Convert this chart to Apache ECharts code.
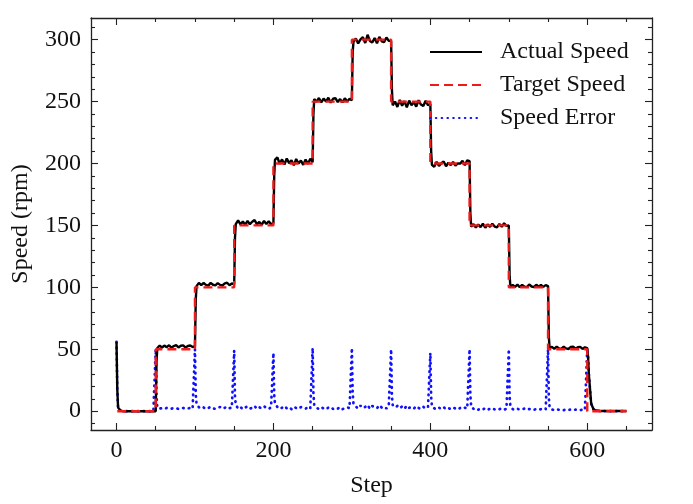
<!DOCTYPE html>
<html><head><meta charset="utf-8">
<script src="https://cdn.jsdelivr.net/npm/echarts@6/dist/echarts.min.js"></script>
<style>html,body{margin:0;padding:0;background:#fff}#c{width:693px;height:504px}</style>
</head><body><div id="c"></div>
<script>
// Sample steps shared by Actual Speed and Speed Error
const steps = [
  0,1,2,5,8,11,14,17,20,23,26,29,32,35,38,41,44,47,
  50,51,52,55,58,61,64,67,70,73,76,79,82,85,88,91,94,97,
  100,101,102,105,108,111,114,117,120,123,126,129,132,135,138,141,144,147,
  150,151,152,155,158,161,164,167,170,173,176,179,182,185,188,191,194,197,
  200,201,202,205,208,211,214,217,220,223,226,229,232,235,238,241,244,247,
  250,251,252,255,258,261,264,267,270,273,276,279,282,285,288,291,294,297,
  300,301,302,305,308,311,314,317,320,323,326,329,332,335,338,341,344,347,
  350,351,352,355,358,361,364,367,370,373,376,379,382,385,388,391,394,397,
  400,401,402,405,408,411,414,417,420,423,426,429,432,435,438,441,444,447,
  450,451,452,455,458,461,464,467,470,473,476,479,482,485,488,491,494,497,
  500,501,502,505,508,511,514,517,520,523,526,529,532,535,538,541,544,547,
  550,551,552,555,558,561,564,567,570,573,576,579,582,585,588,591,594,597,
  600,601,602,605,608,611,614,617,620,623,626,629,632,635,638,641,644,647,
  650
];
const actualSpeed = [
  56,18,3,0.5,0,0,0,0,0,0,0,0,0,0,0,0,0,0,
  0,40,51,52.9,51.4,53.0,51.7,53.2,51.3,52.6,53.3,51.5,52.8,53.1,51.4,52.6,53.0,51.8,
  52.3,90,101,103.6,101.8,103.5,102.0,101.4,103.6,102.1,101.6,103.4,102.0,101.5,103.2,103.7,101.7,103.1,
  102.5,140,151,154.0,150.8,153.2,150.5,153.6,151.0,153.0,154.4,150.9,152.8,150.4,153.6,151.2,153.3,151.0,
  152,190,203,205.0,199.8,203.3,199.2,204.0,200.3,202.6,198.5,203.7,200.0,202.4,198.9,203.2,199.7,203.9,
  201,240,252,249.8,252.9,249.3,252.4,250.0,253.1,249.1,252.3,252.8,249.6,252.0,249.4,252.7,250.1,252.2,
  251,290,298,301.0,297.0,300.3,302.0,297.3,304.0,299.0,297.7,301.4,297.1,302.3,298.7,298.0,301.7,299.1,
  299,260,247,250.0,245.7,251.3,246.6,250.4,245.3,250.8,247.1,249.7,245.9,251.1,247.6,246.4,250.6,247.0,
  248,210,199,197.3,201.4,198.1,200.3,201.7,197.8,200.6,198.7,201.3,198.4,200.1,199.9,202.1,198.6,202.6,
  202,160,149,151.0,148.3,150.7,148.6,151.5,148.1,150.9,148.8,151.4,149.1,148.4,151.2,148.9,151.8,149.6,
  150,110,100.5,101.9,100.4,102.2,100.1,102.0,100.6,100.3,102.3,100.7,100.2,102.1,100.5,101.9,100.4,101.8,
  101,60,51,51.9,50.3,52.1,50.6,50.4,52.0,50.7,50.2,51.8,52.1,50.4,51.7,51.9,50.3,51.6,
  51,44,30,6,1.5,0.5,0.3,0.2,0.2,0.1,0.1,0.1,0.1,0.1,0.1,0.1,0.1,0.1,
  0.1
];
const speedError = [
  56,18,3,0.5,0,0,0,0,0,0,0,0,0,0,0,0,0,0,
  50,12,3,2.1,2.4,1.9,2.6,2.2,2.0,2.5,2.3,1.8,2.4,2.6,2.1,2.3,2.5,2.0,
  50,14,6,3.2,2.1,3.0,1.8,2.6,3.4,2.2,1.9,2.8,3.3,2.0,2.7,3.6,2.4,2.9,
  49,12,5,2.2,3.4,1.6,2.9,3.8,2.1,2.7,4.2,1.9,3.1,2.4,3.9,2.6,1.8,3.2,
  47,13,6,3.5,1.9,2.8,4.1,2.3,3.2,1.7,3.6,2.5,1.9,3.3,2.7,2.0,3.4,2.2,
  51,14,5,2.8,1.7,3.1,2.2,1.5,2.9,3.4,1.8,2.6,2.1,3.2,1.6,2.4,3.0,2.5,
  51,15,6,3.8,2.1,4.5,2.6,3.4,5.0,1.9,4.2,3.1,2.4,4.8,2.9,3.6,2.2,4.0,
  50,13,5,3.1,4.2,2.4,3.8,1.9,4.5,2.7,3.3,2.1,4.0,2.6,1.8,3.5,2.3,3.0,
  47,12,4,2.3,1.5,2.8,1.9,3.2,1.6,2.4,1.8,3.0,2.1,1.4,2.6,1.9,2.8,2.2,
  50,13,4,1.8,2.4,1.2,2.1,1.5,2.3,1.1,1.9,2.5,1.4,2.0,1.6,2.2,1.3,1.8,
  50,12,4,1.6,1.1,1.9,1.3,1.5,2.1,1.2,1.7,1.4,1.0,1.8,1.3,1.6,1.1,1.5,
  50,11,3,1.3,0.9,1.5,1.1,1.2,0.8,1.4,1.0,1.3,0.9,1.2,1.1,0.8,1.3,1.0,
  51,44,30,6,1.5,0.5,0.3,0.2,0.2,0.1,0.1,0.1,0.1,0.1,0.1,0.1,0.1,0.1,
  0.1
];
// Target speed step corners
const targetSteps = [1,50,50,100,100,150,150,200,200,250,250,300,300,350,350,400,400,450,450,500,500,550,550,600,600,650];
const targetSpeed = [0,0,50,50,100,100,150,150,200,200,250,250,300,300,250,250,200,200,150,150,100,100,50,50,0,0];

const xMajor = [0,200,400,600];
const xMinor = [50,100,150,250,300,350,450,500,550,650];
const yMajor = [0,50,100,150,200,250,300];
const yMinor = [-10,10,20,30,40,60,70,80,90,110,120,130,140,160,170,180,190,210,220,230,240,260,270,280,290,310];

const FONT = 'Liberation Serif';
const AX = '#222';
const XMIN = -32.5, XMAX = 682.5, YMIN = -15.2, YMAX = 317.5;

function xAx(pos, vals, len, line, labels, extra) {
  return Object.assign({
    type: 'value', position: pos, min: XMIN, max: XMAX,
    axisLine: {show: line, onZero: false, lineStyle: {color: AX, width: 1.3}},
    axisTick: {show: true, inside: true, length: len, customValues: vals, lineStyle: {color: AX, width: 1.1}},
    axisLabel: labels ? {show: true, customValues: vals, margin: 9, color: '#111', fontFamily: FONT, fontSize: 24} : {show: false},
    splitLine: {show: false}
  }, extra || {});
}
function yAx(pos, vals, len, line, labels, extra) {
  return Object.assign({
    type: 'value', position: pos, min: YMIN, max: YMAX,
    axisLine: {show: line, onZero: false, lineStyle: {color: AX, width: 1.3}},
    axisTick: {show: true, inside: true, length: len, customValues: vals, lineStyle: {color: AX, width: 1.1}},
    axisLabel: labels ? {show: true, customValues: vals, margin: 10, color: '#111', fontFamily: FONT, fontSize: 24} : {show: false},
    splitLine: {show: false}
  }, extra || {});
}

const chart = echarts.init(document.getElementById('c'), null, {renderer: 'canvas'});
chart.setOption({
  animation: false,
  backgroundColor: '#fff',
  grid: {left: 91, right: 41, top: 18, bottom: 74, containLabel: false},
  xAxis: [
    xAx('bottom', xMajor, 7, true, true, {name: 'Step', nameLocation: 'middle', nameGap: 44,
      nameTextStyle: {fontFamily: FONT, fontSize: 24, color: '#111'}}),
    xAx('bottom', xMinor, 4, false, false),
    xAx('top', xMajor, 7, true, false),
    xAx('top', xMinor, 4, false, false)
  ],
  yAxis: [
    yAx('left', yMajor, 7, true, true, {name: 'Speed (rpm)', nameLocation: 'middle', nameGap: 58,
      nameTextStyle: {fontFamily: FONT, fontSize: 24, color: '#111'}}),
    yAx('left', yMinor, 4, false, false),
    yAx('right', yMajor, 7, true, false),
    yAx('right', yMinor, 4, false, false)
  ],
  legend: {
    data: ['Actual Speed', 'Target Speed', 'Speed Error'],
    orient: 'vertical', left: 424, top: 35, itemWidth: 52, itemHeight: 14, itemGap: 9,
    itemStyle: {opacity: 0},
    textStyle: {fontFamily: FONT, fontSize: 24, color: '#111', padding: [0, 0, 0, 13]}
  },
  series: [
    {name: 'Speed Error', type: 'line', z: 1, xAxisIndex: 0, yAxisIndex: 0, showSymbol: false, symbol: 'none',
      data: steps.map((s, i) => [s, speedError[i]]),
      lineStyle: {color: '#1010ff', width: 2.7, type: [0.6, 5.2], cap: 'round'}, itemStyle: {color: '#1010ff'}},
    {name: 'Actual Speed', type: 'line', z: 2, xAxisIndex: 0, yAxisIndex: 0, showSymbol: false, symbol: 'none',
      data: steps.map((s, i) => [s, actualSpeed[i]]),
      lineStyle: {color: '#000', width: 2.4}, itemStyle: {color: '#000'}},
    {name: 'Target Speed', type: 'line', z: 3, xAxisIndex: 0, yAxisIndex: 0, showSymbol: false, symbol: 'none',
      data: targetSteps.map((s, i) => [s, targetSpeed[i]]),
      lineStyle: {color: '#ee1b1b', width: 2.4, type: [9, 5]}, itemStyle: {color: '#ee1b1b'}}
  ]
});
</script></body></html>
